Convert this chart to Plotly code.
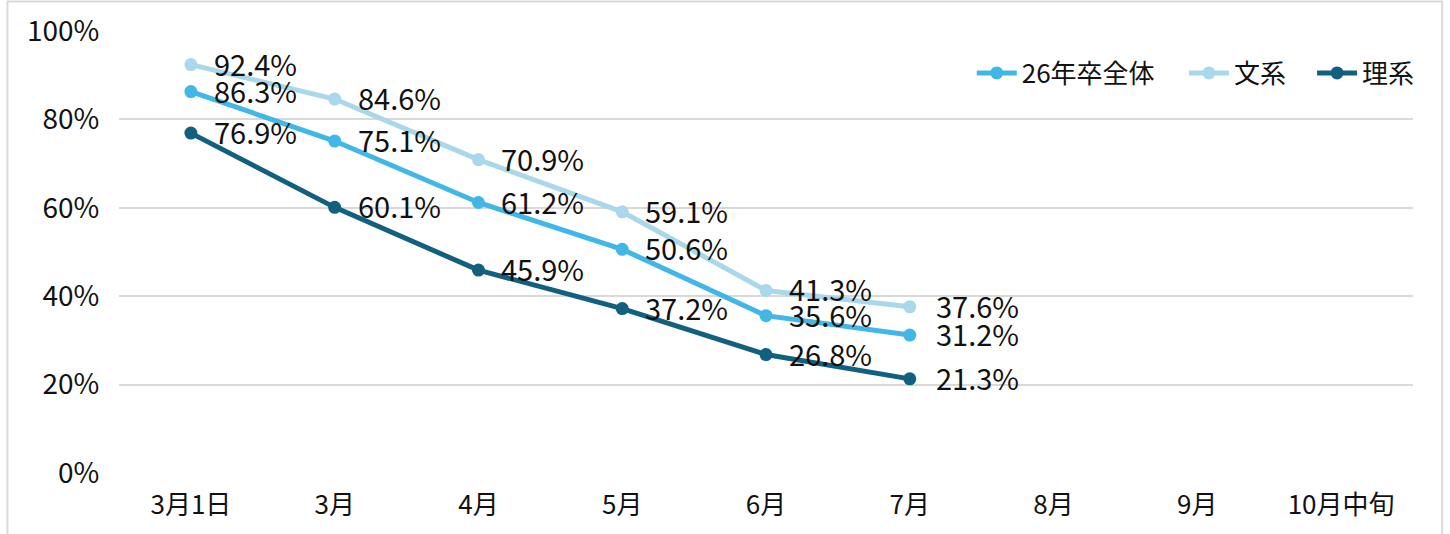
import plotly.graph_objects as go

# Categories (survey points) and the share of students still job hunting
categories = ["3月1日", "3月", "4月", "5月", "6月", "7月", "8月", "9月", "10月中旬"]
series_names = ["26年卒全体", "文系", "理系"]
overall = [0.863, 0.751, 0.612, 0.506, 0.356, 0.312]
humanities = [0.924, 0.846, 0.709, 0.591, 0.413, 0.376]
sciences = [0.769, 0.601, 0.459, 0.372, 0.268, 0.213]
y_ticks = [0, 0.2, 0.4, 0.6, 0.8, 1.0]
y_tick_labels = ["0%", "20%", "40%", "60%", "80%", "100%"]

colors = ["#41B7E8", "#A8D8EA", "#12607F"]
series_values = [overall, humanities, sciences]
# left edge of each legend entry (paper coordinates)
legend_x = [0.659, 0.823, 0.922]

FONT = "Noto Sans CJK JP"

fig = go.Figure()
legend_ids = ["legend", "legend2", "legend3"]
for name, vals, col, lid in zip(series_names, series_values, colors, legend_ids):
    fig.add_trace(go.Scatter(
        x=categories[:len(vals)], y=vals, name=name, mode="lines+markers",
        line=dict(color=col, width=5),
        marker=dict(color=col, size=13),
        legend=lid,
    ))

# value labels to the right of each point
annotations = []
for vals in series_values:
    for i, v in enumerate(vals):
        last = i == len(vals) - 1
        annotations.append(dict(
            x=categories[i], y=v, xref="x", yref="y",
            text=f"{v * 100:.1f}%", showarrow=False,
            xanchor="left", yanchor="middle",
            xshift=24 if last else 21, yshift=2,
            font=dict(family=FONT, size=29, color="#111111"),
        ))

legend_style = dict(
    orientation="h", xanchor="left", y=0.905, yanchor="middle",
    font=dict(family=FONT, size=26, color="#111111"),
    bgcolor="rgba(0,0,0,0)", itemwidth=40,
)

fig.update_layout(
    width=1450, height=534,
    margin=dict(l=119, r=37, t=31, b=61, autoexpand=False),
    paper_bgcolor="white", plot_bgcolor="white",
    font=dict(family=FONT, size=26, color="#111111"),
    showlegend=True,
    legend=dict(x=legend_x[0], **legend_style),
    legend2=dict(x=legend_x[1], **legend_style),
    legend3=dict(x=legend_x[2], **legend_style),
    annotations=annotations,
    shapes=[dict(
        type="rect", xref="paper", yref="paper",
        x0=-0.0862, x1=1.0225, y0=-0.2, y1=1.0668,
        line=dict(color="#D9D9D9", width=2), fillcolor="rgba(0,0,0,0)",
        layer="below",
    )],
)

fig.update_xaxes(
    type="category", categoryorder="array", categoryarray=categories,
    range=[-0.5, len(categories) - 0.5], automargin=False,
    showgrid=False, zeroline=False, showline=False,
    ticks="outside", ticklen=9, tickcolor="rgba(0,0,0,0)",
    tickfont=dict(family=FONT, size=26, color="#111111"),
)
fig.update_yaxes(
    range=[0, 1], tickvals=y_ticks, ticktext=y_tick_labels, automargin=False,
    showgrid=True, gridcolor="#D9D9D9", gridwidth=2,
    zeroline=False, showline=False,
    ticks="outside", ticklen=13, tickcolor="rgba(0,0,0,0)",
    tickfont=dict(family=FONT, size=28, color="#111111"),
)

fig.write_html("out.html")
